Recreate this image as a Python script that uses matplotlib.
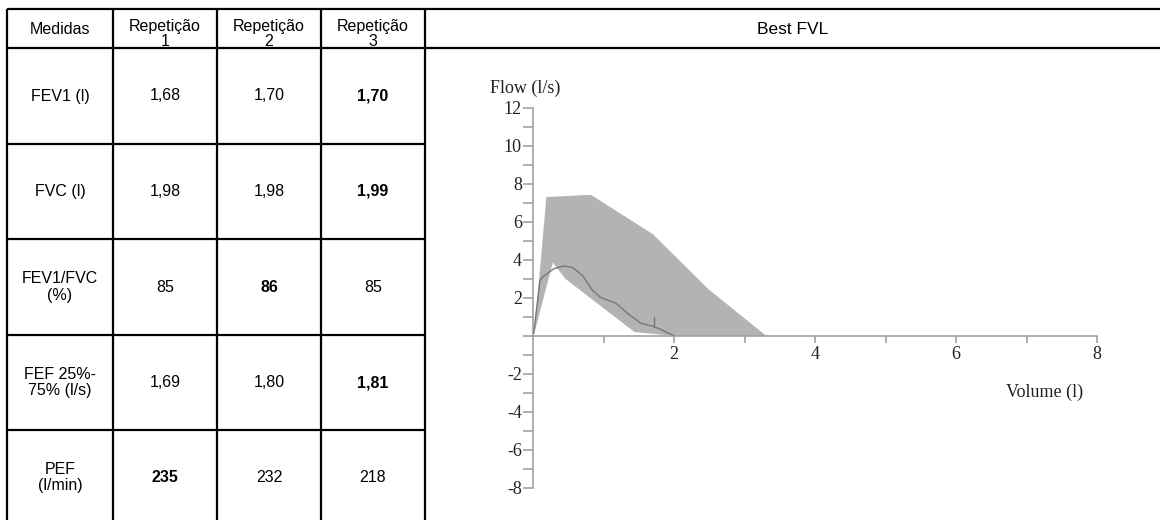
import matplotlib
matplotlib.use("Agg")
import matplotlib.pyplot as plt
import numpy as np
from matplotlib.ticker import FixedLocator, FuncFormatter

# ---------------- data ----------------
header = ["Medidas", "Repetição\n1", "Repetição\n2", "Repetição\n3"]
measures = ["FEV1 (l)", "FVC (l)", "FEV1/FVC\n(%)", "FEF 25%-\n75% (l/s)", "PEF\n(l/min)"]
rep1 = ["1,68", "1,98", "85", "1,69", "235"]
rep2 = ["1,70", "1,98", "86", "1,80", "232"]
rep3 = ["1,70", "1,99", "85", "1,81", "218"]
best_rep = [3, 3, 2, 3, 1]  # which repetition is in bold

chart_title = "Best FVL"

# predicted range (shaded band): upper and lower boundaries
band_upper_vol = [0.02, 0.19, 0.82, 1.70, 2.49, 3.31]
band_upper_flow = [0.20, 7.30, 7.42, 5.35, 2.45, 0.00]
band_lower_vol = [2.00, 1.44, 0.46, 0.28, 0.03]
band_lower_flow = [0.00, 0.20, 3.00, 3.85, 0.30]

# measured flow-volume curve
curve_vol = [0.01, 0.10, 0.15, 0.30, 0.44, 0.56, 0.70, 0.84, 0.96, 1.18, 1.34,
             1.53, 1.72, 1.87, 1.99]
curve_flow = [0.14, 2.93, 3.14, 3.54, 3.68, 3.60, 3.19, 2.41, 2.02, 1.71, 1.19,
              0.66, 0.49, 0.23, 0.03]
marker_vol = 1.72
marker_flow = (0.49, 1.00)

xticks_major = [2, 4, 6, 8]
xticks_minor = [1, 3, 5, 7]
yticks_major = [-8, -6, -4, -2, 0, 2, 4, 6, 8, 10, 12]
yticks_minor = [-7, -5, -3, -1, 1, 3, 5, 7, 9, 11]

# ---------------- figure ----------------
W, H = 1160, 520
fig = plt.figure(figsize=(W / 100, H / 100), dpi=100)
bg = fig.add_axes([0, 0, 1, 1])
bg.set_xlim(0, W)
bg.set_ylim(H, 0)
bg.axis("off")

sans = "Liberation Sans"
serif = "Liberation Serif"
lw_tab = 1.6

col_x = [7, 113, 217, 321, 425]
row_y = [9, 48, 144, 239, 335, 430, 525]

# table grid
for x in col_x:
    bg.plot([x, x], [row_y[0], H], color="black", lw=lw_tab, solid_capstyle="butt")
for y in row_y[:2]:
    bg.plot([col_x[0], W], [y, y], color="black", lw=lw_tab, solid_capstyle="butt")
for y in row_y[2:]:
    bg.plot([col_x[0], col_x[-1]], [y, y], color="black", lw=lw_tab, solid_capstyle="butt")

fs = 11.5
col_c = [(col_x[i] + col_x[i + 1]) / 2 for i in range(4)]
# header
bg.text(col_c[0], 30, header[0], ha="center", va="center", fontsize=fs, family=sans)
for i in range(1, 4):
    bg.text(col_c[i], 34, header[i], ha="center", va="center", fontsize=fs,
            family=sans, linespacing=1.08)
bg.text((col_x[-1] + W) / 2, 29, chart_title, ha="center", va="center",
        fontsize=12.5, family=sans)

reps = [rep1, rep2, rep3]
for r in range(len(measures)):
    yc = (row_y[r + 1] + row_y[r + 2]) / 2
    bg.text(col_c[0], yc, measures[r], ha="center", va="center", fontsize=fs,
            family=sans, linespacing=1.1)
    for k in range(3):
        bg.text(col_c[k + 1], yc, reps[k][r], ha="center", va="center",
                fontsize=fs, family=sans,
                fontweight="bold" if best_rep[r] == k + 1 else "normal")

# ---------------- chart ----------------
x0_px, x8_px = 533, 1097
ytop_px, ybot_px = 107.7, 488
ax = fig.add_axes([x0_px / W, (H - ybot_px) / H, (x8_px - x0_px) / W,
                   (ybot_px - ytop_px) / H])
ax.set_xlim(0, 8)
ax.set_ylim(-8, 12)
ax.patch.set_alpha(0)

axis_col = "#9a9a9a"
for s in ["top", "right"]:
    ax.spines[s].set_visible(False)
ax.spines["bottom"].set_position(("data", 0))
ax.spines["left"].set_position(("data", 0))
for s in ["bottom", "left"]:
    ax.spines[s].set_color(axis_col)
    ax.spines[s].set_linewidth(1.1)

band_vol = np.concatenate([band_upper_vol, band_lower_vol])
band_flow = np.concatenate([band_upper_flow, band_lower_flow])
ax.fill(band_vol, band_flow, color="#b3b3b3", lw=0, zorder=2)
ax.plot(curve_vol, curve_flow, color="#777777", lw=1.0, zorder=3)
ax.plot([marker_vol, marker_vol], list(marker_flow), color="#777777", lw=1.0, zorder=3)

ax.xaxis.set_major_locator(FixedLocator(xticks_major))
ax.xaxis.set_minor_locator(FixedLocator(xticks_minor))
ax.yaxis.set_major_locator(FixedLocator(yticks_major))
ax.yaxis.set_minor_locator(FixedLocator(yticks_minor))
ax.yaxis.set_major_formatter(FuncFormatter(lambda v, p: "" if v == 0 else f"{int(v)}"))
ax.xaxis.set_major_formatter(FuncFormatter(lambda v, p: f"{int(v)}"))

ax.tick_params(axis="both", which="both", color=axis_col, width=1.1,
               labelcolor="#222222", direction="out")
ax.tick_params(axis="y", which="both", length=7, pad=1)
ax.tick_params(axis="x", which="both", length=5, pad=2)
for lab in ax.get_xticklabels() + ax.get_yticklabels():
    lab.set_family(serif)
    lab.set_fontsize(13)

bg.text(525, 88, "Flow (l/s)", ha="center", va="center", fontsize=13,
        family=serif, color="#222222")
bg.text(1045, 392, "Volume (l)", ha="center", va="center", fontsize=13,
        family=serif, color="#222222")

fig.savefig("out.png", dpi=100)
